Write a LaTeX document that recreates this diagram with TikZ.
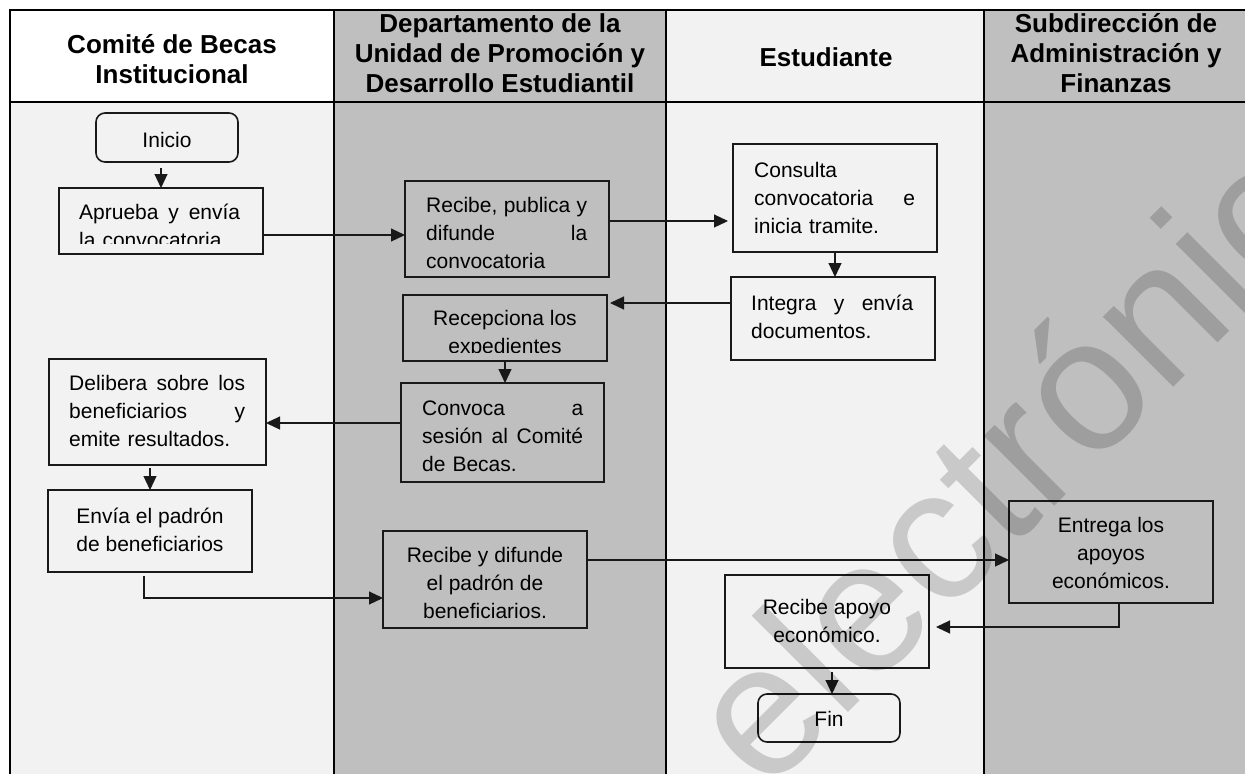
\documentclass[tikz,border=0pt]{standalone}
\usepackage{fontspec}
\setmainfont{Liberation Sans}
\usetikzlibrary{arrows.meta,calc}
\definecolor{lite}{HTML}{F2F2F2}
\definecolor{dark}{HTML}{BFBFBF}
\setlength{\parindent}{0pt}
\newcommand\bodyfont{\fontsize{21}{28}\selectfont}
\newcommand\headfont{\fontsize{26}{30}\selectfont\bfseries}
\newcommand\bst{\rule{0pt}{20pt}}
\newcommand\hst{\rule{0pt}{24pt}}
\newcommand\J[2]{\leavevmode\hbox to #1{#2}}
\newcommand\mkbox[6]{\node[box,fill=#6,minimum width={(#4-#2)*1pt},minimum height={(#5-#3)*1pt}] (#1) at (#2,-#3) {};}
\begin{document}
\begin{tikzpicture}[x=1pt,y=1pt,
  box/.style={rectangle,draw=black!90,line width=1.6pt,inner sep=0pt,outer sep=0pt,anchor=north west},
  jt/.style={inner sep=0pt,anchor=north west,align=left,font=\bodyfont},
  ct/.style={inner sep=0pt,anchor=north,align=center,font=\bodyfont},
  ht/.style={inner sep=0pt,anchor=north,align=center,font=\headfont},
  arr/.style={draw=black!90,line width=1.1pt,-{Triangle[length=14pt,width=13pt]}},
  lanerule/.style={line width=2pt,draw=black}]
\useasboundingbox (0,0) rectangle (1245,-774);
% lanes
\fill[white] (0,0) rectangle (1245,-774);
\fill[white] (10,-10) rectangle (334,-102);
\fill[lite] (10,-102) rectangle (334,-774);
\fill[dark] (334,-10) rectangle (666,-774);
\fill[lite] (666,-10) rectangle (984,-774);
\fill[dark] (984,-10) rectangle (1245,-774);
\draw[lanerule] (10,-774) -- (10,-10) -- (1245,-10);
\draw[lanerule] (10,-102) -- (1245,-102);
\draw[lanerule] (334,-10) -- (334,-774);
\draw[lanerule] (666,-10) -- (666,-774);
\draw[lanerule] (984,-10) -- (984,-774);
% headers
\node[ht] (h1) at (172,-29) {\hst Comité de Becas\\Institucional};
\node[ht] (h2) at (500,-8) {\hst Departamento de la\\Unidad de Promoción y\\Desarrollo Estudiantil};
\node[ht] (h3) at (826,-42) {\hst Estudiante};
\node[ht] (h4) at (1116,-8) {\hst Subdirección de\\Administración y\\Finanzas};
% boxes
\node[box,fill=lite,rounded corners=9pt,minimum width=142pt,minimum height=49pt] (inicio) at (96,-113) {};
\mkbox{aprueba}{59}{188}{263}{254}{lite}
\mkbox{recibe1}{405}{181}{609}{277}{dark}
\mkbox{consulta}{733}{144}{937}{252}{lite}
\mkbox{integra}{731}{277}{935}{360}{lite}
\mkbox{recep}{403}{295}{607}{361}{dark}
\mkbox{convoca}{401}{383}{604}{482}{dark}
\mkbox{delibera}{49}{359}{266}{465}{lite}
\mkbox{envia}{48}{490}{252}{572}{lite}
\mkbox{recibe2}{383}{531}{587}{628}{dark}
\mkbox{entrega}{1009}{501}{1213}{603}{dark}
\mkbox{apoyo}{725}{575}{929}{668}{lite}
\node[box,fill=lite,rounded corners=9pt,minimum width=142pt,minimum height=48pt] (fin) at (758,-694) {};
% texts
\node[ct] (t-inicio) at (167,-127) {\bst Inicio};
\begin{scope}
\clip (59,-188) rectangle (263,-243);
\node[jt,text width=161pt] (t-aprueba) at (79,-199) {\bst\J{161pt}{Aprueba\hfill y\hfill envía}\\la convocatoria};
\end{scope}
\node[jt,text width=161pt] (t-recibe1) at (426,-192) {\bst\J{161pt}{Recibe,\hfill publica\hfill y}\\\J{161pt}{difunde\hfill la}\\convocatoria};
\node[jt,text width=161pt] (t-consulta) at (754,-157) {\bst Consulta\\\J{161pt}{convocatoria\hfill e}\\inicia tramite.};
\node[jt,text width=162pt] (t-integra) at (751,-290) {\bst\J{162pt}{Integra\hfill y\hfill envía}\\documentos.};
\begin{scope}
\clip (403,-295) rectangle (607,-352);
\node[ct] (t-recep) at (505,-305) {\bst Recepciona los\\expedientes};
\end{scope}
\node[jt,text width=161pt] (t-convoca) at (422,-395) {\bst\J{161pt}{Convoca\hfill a}\\\J{161pt}{sesión\hfill al\hfill Comité}\\de Becas.};
\node[jt,text width=176pt] (t-delibera) at (69,-370) {\bst\J{176pt}{Delibera\hfill sobre\hfill los}\\\J{176pt}{beneficiarios\hfill y}\\emite resultados.};
\node[ct] (t-envia) at (150,-503) {\bst Envía el padrón\\de beneficiarios};
\node[ct] (t-recibe2) at (485,-542) {\bst Recibe y difunde\\el padrón de\\beneficiarios.};
\node[ct] (t-entrega) at (1111,-512) {\bst Entrega los\\apoyos\\económicos.};
\node[ct] (t-apoyo) at (827,-594) {\bst Recibe apoyo\\económico.};
\node[ct] (t-fin) at (829,-706) {\bst Fin};
% connectors
\draw[arr] ($(aprueba.north |- inicio.south)+(0,-6)$) -- (aprueba.north);
\draw[arr] (aprueba.east |- 0,-235) -- (recibe1.west |- 0,-235);
\draw[arr] (recibe1.east |- 0,-221) -- ($(consulta.west |- 0,-221)+(-5,0)$);
\draw[arr] (consulta.south) -- (consulta.south |- integra.north);
\draw[arr] (integra.west |- 0,-303) -- ($(recep.east |- 0,-303)+(3,0)$);
\draw[arr] (recep.south) -- (recep.south |- convoca.north);
\draw[arr] (convoca.west |- 0,-423) -- (delibera.east |- 0,-423);
\draw[arr] ($(envia.north |- delibera.south)+(0,-3)$) -- (envia.north);
\draw[arr] ($(envia.south)+(-6,-4)$) |- (recibe2.west |- 0,-598);
\draw[arr] (recibe2.east |- 0,-560) -- (entrega.west |- 0,-560);
\draw[arr] ($(entrega.south)+(8,0)$) |- ($(apoyo.east |- 0,-627)+(7,0)$);
\draw[arr] ($(apoyo.south)+(5,-4)$) -- ($(fin.north)+(3,0)$);
% watermark
\begin{scope}
\clip (0,0) rectangle (1245,-774);
\node[rotate=45,anchor=base west,inner sep=0pt,text=black,text opacity=0.17,font=\fontsize{188}{188}\selectfont] (wm) at (765,-796) {electrónico};
\end{scope}
\end{tikzpicture}
\end{document}
